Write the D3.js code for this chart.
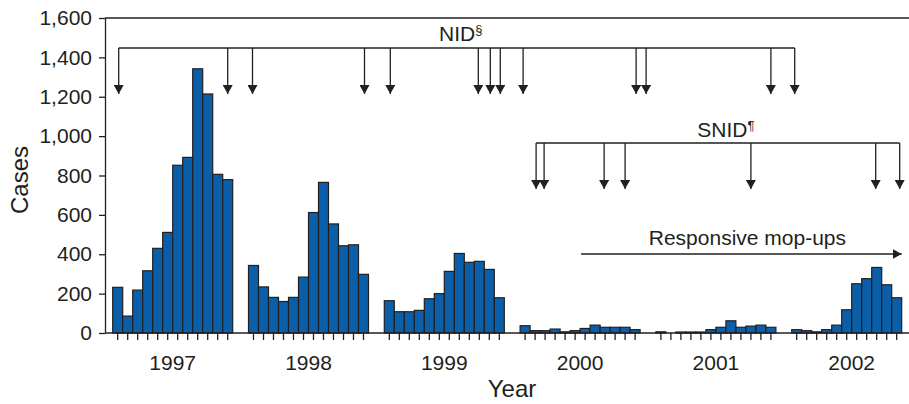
<!DOCTYPE html>
<meta charset="utf-8">
<style>
body { margin: 0; background: #fff; }
svg { font-family: "Liberation Sans", Arial, sans-serif; }
.bar { fill: #0b5fa9; stroke: #231f20; stroke-width: 1.2; }
.axis path, .axis line, .rule { stroke: #231f20; stroke-width: 1.3; }
.axis text { font-size: 21px; fill: #231f20; font-family: "Liberation Sans", Arial, sans-serif; }
.lbl { font-size: 21px; fill: #231f20; }
.arrow { stroke: #231f20; stroke-width: 1.3; fill: none; }
</style>
<svg width="909" height="404"></svg>
<script src="https://d3js.org/d3.v7.min.js"></script>
<script>

// monthly cases, Jan..Dec (2002 data through November)
var years = [1997, 1998, 1999, 2000, 2001, 2002];
var cases1997 = [232, 86, 218, 316, 430, 511, 852, 892, 1342, 1214, 806, 779];
var cases1998 = [343, 234, 181, 160, 181, 284, 612, 765, 554, 443, 448, 298];
var cases1999 = [164, 108, 108, 115, 174, 200, 313, 404, 359, 364, 323, 179];
var cases2000 = [37, 12, 12, 20, 6, 12, 23, 40, 29, 29, 29, 17];
var cases2001 = [6, 0, 5, 5, 5, 17, 29, 62, 29, 35, 40, 29];
var cases2002 = [17, 12, 6, 17, 40, 118, 250, 276, 333, 245, 179];
var yTicks = [0, 200, 400, 600, 800, 1000, 1200, 1400, 1600];

// campaign dates as [year, month position from start of year]
var nidDates = [[1997, 0.6], [1997, 11.5], [1998, 0.4], [1998, 11.6], [1999, 0.6], [1999, 9.4],
                [1999, 10.6], [1999, 11.6], [2000, 0.3], [2000, 11.6], [2000, 12.6], [2001, 11.5], [2002, 0.3]];
var snidDates = [[2000, 1.6], [2000, 2.4], [2000, 8.4], [2000, 10.5], [2001, 9.5], [2002, 8.4], [2002, 10.8]];
var mopUp = [[2000, 6.1], [2002, 11.0]];

var allCases = [cases1997, cases1998, cases1999, cases2000, cases2001, cases2002];
var data = [];
years.forEach(function(yr, i) {
  allCases[i].forEach(function(v, m) { data.push({year: yr, month: m, value: v}); });
});

var svg = d3.select("svg"),
    plotLeft = 105, plotRight = 909, plotTop = 18, plotBottom = 333;

var xYear = d3.scaleBand().domain(years)
    .range([112.7, 112.7 + 5 * 135.8 + 120])
    .paddingInner(15.8 / 135.8).paddingOuter(0);
var xMonth = d3.scaleBand().domain(d3.range(12)).range([0, xYear.bandwidth()]);
var y = d3.scaleLinear().domain([0, 1600]).range([plotBottom, plotTop]);

function pos(d) { return xYear(d[0]) + d[1] * xMonth.step(); }

// top rule
svg.append("line").attr("class", "rule")
    .attr("x1", plotLeft).attr("x2", plotRight).attr("y1", plotTop).attr("y2", plotTop);

// bars
svg.selectAll(".bar")
  .data(data.filter(function(d) { return d.value > 0; }))
  .enter().append("rect")
    .attr("class", "bar")
    .attr("x", function(d) { return xYear(d.year) + xMonth(d.month); })
    .attr("y", function(d) { return y(d.value); })
    .attr("width", xMonth.bandwidth())
    .attr("height", function(d) { return plotBottom - y(d.value); });

// y axis
svg.append("g")
    .attr("class", "axis")
    .attr("transform", "translate(" + plotLeft + ",0)")
    .call(d3.axisLeft(y).tickValues(yTicks).tickFormat(d3.format(",")).tickSize(6).tickSizeOuter(0).tickPadding(7));

// x axis line + month ticks
svg.append("line").attr("class", "rule")
    .attr("x1", plotLeft).attr("x2", plotRight).attr("y1", plotBottom).attr("y2", plotBottom);
svg.selectAll(".mtick")
  .data(data)
  .enter().append("line")
    .attr("class", "rule")
    .attr("x1", function(d) { return xYear(d.year) + xMonth(d.month) + xMonth.bandwidth() / 2; })
    .attr("x2", function(d) { return xYear(d.year) + xMonth(d.month) + xMonth.bandwidth() / 2; })
    .attr("y1", plotBottom).attr("y2", plotBottom + 7);

svg.selectAll(".yearlbl")
  .data(years)
  .enter().append("text")
    .attr("class", "lbl")
    .attr("x", function(d) { return xYear(d) + xYear.bandwidth() / 2; })
    .attr("y", 370)
    .attr("text-anchor", "middle")
    .text(function(d) { return d; });

svg.append("text").attr("class", "lbl")
    .style("font-size", "24px")
    .attr("x", 512).attr("y", 397)
    .attr("text-anchor", "middle")
    .text("Year");

svg.append("text").attr("class", "lbl")
    .style("font-size", "24px")
    .attr("transform", "translate(28,180) rotate(-90)")
    .attr("text-anchor", "middle")
    .text("Cases");

// arrowhead
svg.append("defs").append("marker")
    .attr("id", "head")
    .attr("viewBox", "0 0 10 10")
    .attr("refX", 10).attr("refY", 5)
    .attr("markerWidth", 9).attr("markerHeight", 10)
    .attr("markerUnits", "userSpaceOnUse")
    .attr("orient", "auto")
    .attr("preserveAspectRatio", "none")
  .append("path")
    .attr("d", "M0,0L10,5L0,10Z")
    .attr("fill", "#231f20");

function bracket(dates, yLine, yTip, label, sup, dx, yText) {
  var xs = dates.map(pos);
  var g = svg.append("g");
  g.append("line").attr("class", "arrow")
      .attr("x1", d3.min(xs)).attr("x2", d3.max(xs))
      .attr("y1", yLine).attr("y2", yLine);
  g.selectAll("line.v")
    .data(xs)
    .enter().append("line")
      .attr("class", "arrow v")
      .attr("x1", function(d) { return d; }).attr("x2", function(d) { return d; })
      .attr("y1", yLine).attr("y2", yTip)
      .attr("marker-end", "url(#head)");
  var t = g.append("text").attr("class", "lbl")
      .attr("x", (d3.min(xs) + d3.max(xs)) / 2 + dx)
      .attr("y", yText)
      .attr("text-anchor", "middle");
  t.append("tspan").text(label);
  t.append("tspan").attr("dy", -7).style("font-size", "13px").text(sup);
}

bracket(nidDates, 48, 94, "NID", "\u00a7", 4, 41);
bracket(snidDates, 143, 189, "SNID", "\u00b6", 8, 137);

// responsive mop-ups
svg.append("line").attr("class", "arrow")
    .attr("x1", pos(mopUp[0])).attr("x2", pos(mopUp[1]))
    .attr("y1", 254).attr("y2", 254)
    .attr("marker-end", "url(#head)");
svg.append("text").attr("class", "lbl")
    .attr("x", (pos(mopUp[0]) + pos(mopUp[1])) / 2 + 6)
    .attr("y", 245)
    .attr("text-anchor", "middle")
    .text("Responsive mop-ups");

</script>
